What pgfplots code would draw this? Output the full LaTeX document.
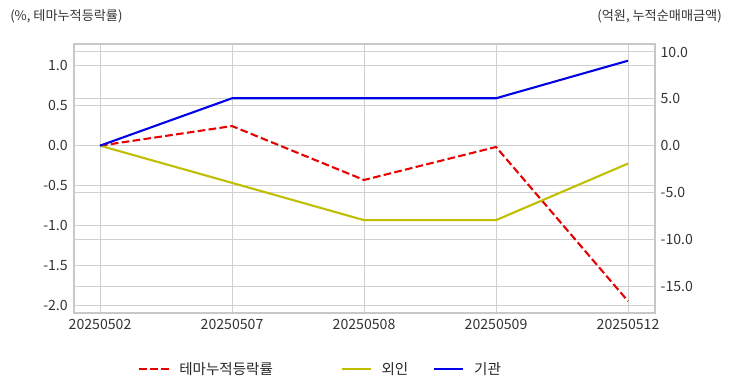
\documentclass[border=0pt]{standalone}
\usepackage{pgfplots}
\pgfplotsset{compat=1.18}
\usepackage{fontspec}
\setmainfont{Noto Sans CJK KR}
\definecolor{gridgray}{HTML}{D0D0D0}
\definecolor{framegray}{HTML}{C8C8C8}
\definecolor{myred}{HTML}{E60000}
\definecolor{myyellow}{RGB}{191,191,0}
\definecolor{myblue}{RGB}{0,0,230}
\pgfplotstableread{
x theme foreign inst
0 0 0 0
1 0.246 -3.97 5.06
2 -0.43 -7.95 5.06
3 -0.016 -7.95 5.06
4 -1.95 -1.91 9.07
}\mydata
\begin{document}
\begin{tikzpicture}[x=1bp,y=1bp]
\path[use as bounding box] (0,0) rectangle (527,282.2);
\pgfplotsset{
  common/.style={
    scale only axis, width=418.3bp, height=193.7bp,
    at={(53.3bp,56.8bp)}, anchor=south west,
    xmin=-0.197, xmax=4.205,
    major tick length=0pt,
    tick label style={font=\fontsize{10.2}{12}\selectfont, color=black!80},
    yticklabel style={/pgf/number format/fixed, /pgf/number format/fixed zerofill, /pgf/number format/precision=1, /pgf/number format/assume math mode=true},
  }
}
\begin{axis}[common,
  ymin=-2.1, ymax=1.275,
  xtick={0,1,2,3,4},
  xticklabels={20250502,20250507,20250508,20250509,20250512},
  ytick={-2,-1.5,-1,-0.5,0,0.5,1},
  extra y ticks={-1.7625,-1.175,-0.5875,0.5875,1.175},
  extra y tick labels={},
  extra y tick style={ymajorgrids=true},
  xmajorgrids=true, ymajorgrids=true,
  grid style={color=gridgray, line width=0.72bp},
  axis line style={color=framegray, line width=1.2bp},
  xticklabel style={yshift=-1bp},
  yticklabel style={xshift=-1bp},
]
\addplot[myred, line width=1.5bp, dash pattern=on 5.5bp off 2.4bp] table[x=x,y=theme]{\mydata};
\end{axis}
\begin{axis}[common,
  ymin=-17.87, ymax=10.85,
  axis y line*=right, hide x axis,
  ytick={-15,-10,-5,0,5,10},
  axis line style={draw=none},
  yticklabel style={xshift=0.5bp},
  legend columns=3,
  legend style={at={(axis description cs:0.1102,-0.208)}, anchor=west, draw=none, fill=none,
    inner sep=0pt, font=\fontsize{10.5}{12}\selectfont, text=black!85,
    nodes={inner sep=0pt},
    /tikz/every odd column/.append style={column sep=7bp},
    /tikz/every even column/.append style={column sep=18bp}},
  legend image code/.code={\draw[#1] (0bp,0bp) -- (21bp,0bp);},
]
\addlegendimage{myred, line width=1.5bp, dash pattern=on 5.5bp off 2.4bp}
\addlegendentry{테마누적등락률\rule{30.7bp}{0pt}}
\addplot[myyellow, line width=1.5bp] table[x=x,y=foreign]{\mydata};
\addlegendentry{외인}
\addplot[myblue, line width=1.5bp] table[x=x,y=inst]{\mydata};
\addlegendentry{기관}
\end{axis}
\node[anchor=west, font=\fontsize{9.5}{11}\selectfont, text=black!80, inner sep=0pt] at (7.2,270.7) {(\%, 테마누적등락률)};
\node[anchor=east, font=\fontsize{9.5}{11}\selectfont, text=black!80, inner sep=0pt] at (519.8,270.7) {(억원, 누적순매매금액)};
\end{tikzpicture}
\end{document}
